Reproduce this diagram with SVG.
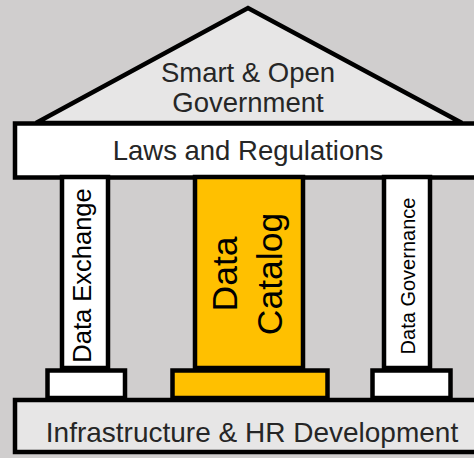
<svg xmlns="http://www.w3.org/2000/svg" width="474" height="458" viewBox="0 0 474 458">
<style>
.s{stroke:#000;stroke-width:4.5;stroke-linejoin:miter}
.w{fill:#fff}
.g{fill:#e7e6e6}
.y{fill:#ffc000}
text{font-family:"Liberation Sans",Arial,sans-serif;fill:#262626;text-anchor:middle}
.k{fill:#000}
</style>
<rect x="0" y="0" width="474" height="458" fill="#d0cece"/>
<g id="roof">
<polygon class="s g" points="36,123 248,8 462,123"/>
<text x="248" y="82" font-size="27.5">Smart &amp; Open</text>
<text x="248" y="112" font-size="27.5">Government</text>
</g>
<g id="laws">
<rect class="s w" x="15" y="123.5" width="470" height="54"/>
<text x="248" y="160" font-size="27.5">Laws and Regulations</text>
</g>
<g id="foundation">
<rect class="s g" x="15" y="400" width="470" height="52"/>
<text x="252" y="442" font-size="28">Infrastructure &amp; HR Development</text>
</g>
<g id="data-exchange">
<rect class="s w" x="62" y="177" width="46" height="191"/>
<rect class="s w" x="47.5" y="370.5" width="77.5" height="27.5"/>
<text class="k" transform="translate(91,275.5) rotate(-90)" font-size="25.5">Data Exchange</text>
</g>
<g id="data-catalog">
<rect class="s y" x="195" y="177" width="108" height="191"/>
<rect class="s y" x="172.5" y="370.5" width="155" height="27.5"/>
<text class="k" transform="translate(237,274) rotate(-90)" font-size="35.5">Data</text>
<text class="k" transform="translate(282,274) rotate(-90)" font-size="35.5">Catalog</text>
</g>
<g id="data-governance">
<rect class="s w" x="384" y="177" width="46" height="191"/>
<rect class="s w" x="372.5" y="370.5" width="78" height="27.5"/>
<text class="k" transform="translate(415,276) rotate(-90)" font-size="20">Data Governance</text>
</g>
<g id="connectors"></g>
</svg>
